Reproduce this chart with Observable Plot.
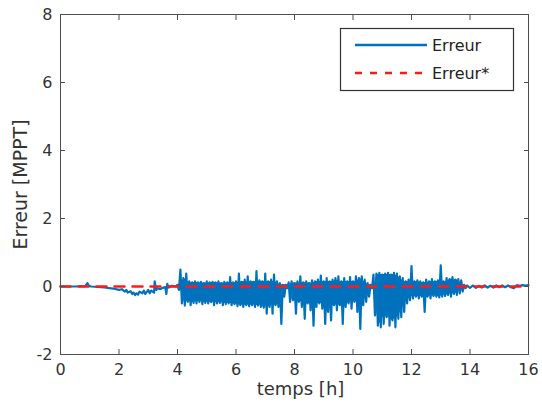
<!DOCTYPE html>
<html><head><meta charset="utf-8">
<script src="https://cdn.jsdelivr.net/npm/d3@7"></script>
<script src="https://cdn.jsdelivr.net/npm/@observablehq/plot@0.6"></script>
<style>
html,body{margin:0;padding:0;background:#fff;}
#wrap{position:relative;width:542px;height:412px;}
#legend{position:absolute;left:0;top:0;pointer-events:none;}
</style></head><body>
<div id="wrap"></div>
<script>
// ---- data ----
const xTicks = [0, 2, 4, 6, 8, 10, 12, 14, 16];
const yTicks = [-2, 0, 2, 4, 6, 8];

// quiet start (time in h, error)
const preT = [0, 0.5, 0.85, 0.92, 0.97, 1.05, 1.5, 1.8, 2.0, 2.1, 2.2, 2.25, 2.3, 2.4, 2.45, 2.5, 2.55, 2.6, 2.65, 2.7, 2.8, 2.85, 2.9, 3.0, 3.05, 3.1, 3.2, 3.22, 3.27, 3.3, 3.4, 3.5, 3.58, 3.62, 3.65, 3.7, 3.8, 3.95];
const preV = [0, 0, 0.01, 0.1, 0.02, 0, -0.03, -0.06, -0.1, -0.08, -0.15, -0.1, -0.18, -0.14, -0.22, -0.18, -0.25, -0.2, -0.24, -0.15, -0.2, -0.12, -0.22, -0.1, -0.2, -0.12, -0.18, 0.15, -0.1, -0.05, -0.08, -0.04, -0.02, -0.22, 0.08, -0.03, 0.02, 0.0];

// dense oscillation 4.0 h .. 13.8 h, every 0.1 h: upper and lower swing
const denseStart = 4.0;
const denseStep = 0.1;
const denseHi = [
  0.05, 0.50, 0.25, 0.38, 0.15, 0.12, 0.15, 0.12, 0.14, 0.10,
  0.15, 0.12, 0.14, 0.12, 0.15, 0.10, 0.14, 0.12, 0.28, 0.12,
  0.15, 0.38, 0.14, 0.20, 0.30, 0.15, 0.14, 0.45, 0.18, 0.15,
  0.38, 0.15, 0.20, 0.35, 0.15, 0.10, 0.05, 0.05, 0.12, 0.15,
  0.10, 0.15, 0.30, 0.12, 0.15, 0.10, 0.18, 0.15, 0.20, 0.32,
  0.15, 0.25, 0.15, 0.20, 0.25, 0.30, 0.15, 0.25, 0.15, 0.28,
  0.15, 0.30, 0.25, 0.30, 0.20, 0.10, 0.05, 0.35, 0.38, 0.40,
  0.35, 0.38, 0.40, 0.35, 0.40, 0.38, 0.30, 0.25, 0.15, 0.20,
  0.60, 0.15, 0.18, 0.15, 0.12, 0.20, 0.15, 0.22, 0.15, 0.18,
  0.62, 0.15, 0.25, 0.22, 0.28, 0.20, 0.22, 0.18, 0.05
];
const denseLo = [
  -0.10, -0.50, -0.56, -0.45, -0.55, -0.48, -0.50, -0.45, -0.52, -0.48,
  -0.50, -0.46, -0.55, -0.50, -0.48, -0.55, -0.52, -0.50, -0.55, -0.52,
  -0.58, -0.55, -0.60, -0.55, -0.58, -0.55, -0.60, -0.56, -0.60, -0.62,
  -0.80, -0.60, -0.80, -0.55, -0.60, -1.10, -0.30, -0.05, -0.45, -0.40,
  -0.80, -0.45, -0.60, -0.95, -0.50, -0.70, -1.15, -0.60, -0.50, -0.65,
  -1.10, -0.75, -1.00, -0.55, -0.70, -0.55, -1.10, -0.60, -0.50, -0.65,
  -0.45, -0.75, -1.25, -0.55, -0.45, -0.30, -0.05, -0.85, -1.15, -1.20,
  -1.10, -0.90, -1.15, -1.00, -1.20, -0.95, -0.90, -0.75, -0.50, -0.40,
  -0.35, -0.30, -0.35, -0.30, -0.75, -0.30, -0.35, -0.28, -0.30, -0.32,
  -0.30, -0.28, -0.25, -0.30, -0.22, -0.25, -0.20, -0.15, -0.05
];

// quiet end
const postT = [13.9, 14.0, 14.1, 14.2, 14.3, 14.4, 14.5, 14.6, 14.7, 14.8, 14.9, 15.0, 15.1, 15.2, 15.3, 15.4, 15.5, 15.6, 15.7, 15.8, 15.9, 16.0];
const postV = [0.03, -0.04, 0.03, -0.04, 0.02, -0.03, 0.03, -0.03, 0.02, -0.03, 0.03, -0.02, 0.03, -0.02, 0.03, -0.02, -0.05, 0.04, 0.02, 0.04, 0.03, 0.04];

// reference (Erreur*) series
const refT = [0, 16];
const refV = [0, 0];

const seriesNames = ["Erreur", "Erreur*"];

// ---- build the tables ----
const erreur = [];
preT.forEach((t, i) => erreur.push({t, v: preV[i]}));
denseHi.forEach((h, i) => {
  const t = denseStart + i * denseStep;
  erreur.push({t, v: h});
  erreur.push({t: t + denseStep / 2, v: denseLo[i]});
});
postT.forEach((t, i) => erreur.push({t, v: postV[i]}));

// solid core of the dense oscillation (what the swings always cover)
const n = denseHi.length;
const core = denseHi.map((h, i) => {
  const a = Math.max(0, i - 1), b = Math.min(n - 1, i + 1);
  return {
    t: denseStart + i * denseStep + denseStep / 4,
    hi: Math.min(denseHi[a], h, denseHi[b]),
    lo: Math.max(denseLo[a], denseLo[i], denseLo[b])
  };
});
const reference = refT.map((t, i) => ({t, v: refV[i]}));

const font = "'DejaVu Sans', Verdana, sans-serif";
const ink = "#333";
const axisStroke = "#4d4d4d";

const chart = Plot.plot({
  width: 542,
  height: 412,
  marginLeft: 60,
  marginRight: 14,
  marginTop: 14,
  marginBottom: 58,
  style: {fontFamily: font, fontSize: "16px", color: ink, background: "#fff", overflow: "visible"},
  x: {domain: [0, 16]},
  y: {domain: [-2, 8]},
  marks: [
    Plot.areaY(core, {x: "t", y1: "lo", y2: "hi", fill: "#0072BD"}),
    Plot.line(erreur, {x: "t", y: "v", stroke: "#0072BD", strokeWidth: 2.2}),
    Plot.line(reference, {x: "t", y: "v", stroke: "#FF1A1A", strokeWidth: 2.5, strokeDasharray: "10,8"}),
    Plot.frame({stroke: axisStroke, strokeWidth: 1}),
    // labels
    Plot.axisX(xTicks, {anchor: "bottom", tickSize: 0, tickPadding: 9, label: null, fontSize: 16, fill: ink, tickFormat: d => String(d)}),
    Plot.axisY(yTicks, {anchor: "left", tickSize: 0, tickPadding: 8, label: null, fontSize: 16, fill: ink, tickFormat: d => String(d)}),
    // inward ticks on all four sides
    Plot.axisX(xTicks, {anchor: "bottom", tickSize: -5, tickFormat: () => "", label: null, stroke: axisStroke}),
    Plot.axisX(xTicks, {anchor: "top", tickSize: -5, tickFormat: () => "", label: null, stroke: axisStroke}),
    Plot.axisY(yTicks, {anchor: "left", tickSize: -5, tickFormat: () => "", label: null, stroke: axisStroke}),
    Plot.axisY(yTicks, {anchor: "right", tickSize: -5, tickFormat: () => "", label: null, stroke: axisStroke}),
    // axis titles
    Plot.text(["temps [h]"], {frameAnchor: "bottom", textAnchor: "middle", dx: 6, dy: 40, fontSize: 18, fill: ink}),
    Plot.text(["Erreur [MPPT]"], {frameAnchor: "left", textAnchor: "middle", dx: -40, rotate: -90, fontSize: 19, fill: ink})
  ]
});

const wrap = document.getElementById("wrap");
wrap.appendChild(chart);

// legend
const ns = "http://www.w3.org/2000/svg";
const leg = document.createElementNS(ns, "svg");
leg.setAttribute("id", "legend");
leg.setAttribute("width", 542);
leg.setAttribute("height", 412);
leg.style.fontFamily = font;
const legendStyles = [
  {stroke: "#0072BD", width: 2.5, dash: null, y: 45},
  {stroke: "#FF1A1A", width: 2.5, dash: "7,8", y: 73}
];
const box = document.createElementNS(ns, "rect");
box.setAttribute("x", 340.5); box.setAttribute("y", 28.5);
box.setAttribute("width", 173); box.setAttribute("height", 62);
box.setAttribute("fill", "#fff"); box.setAttribute("stroke", "#333"); box.setAttribute("stroke-width", 1.2);
leg.appendChild(box);
seriesNames.forEach((name, i) => {
  const s = legendStyles[i];
  const ln = document.createElementNS(ns, "line");
  ln.setAttribute("x1", 355); ln.setAttribute("x2", 427);
  ln.setAttribute("y1", s.y); ln.setAttribute("y2", s.y);
  ln.setAttribute("stroke", s.stroke); ln.setAttribute("stroke-width", s.width);
  if (s.dash) ln.setAttribute("stroke-dasharray", s.dash);
  leg.appendChild(ln);
  const tx = document.createElementNS(ns, "text");
  tx.setAttribute("x", 432); tx.setAttribute("y", s.y + 6);
  tx.setAttribute("font-size", 16); tx.setAttribute("fill", "#222");
  tx.textContent = name;
  leg.appendChild(tx);
});
wrap.appendChild(leg);
</script>
</body></html>
